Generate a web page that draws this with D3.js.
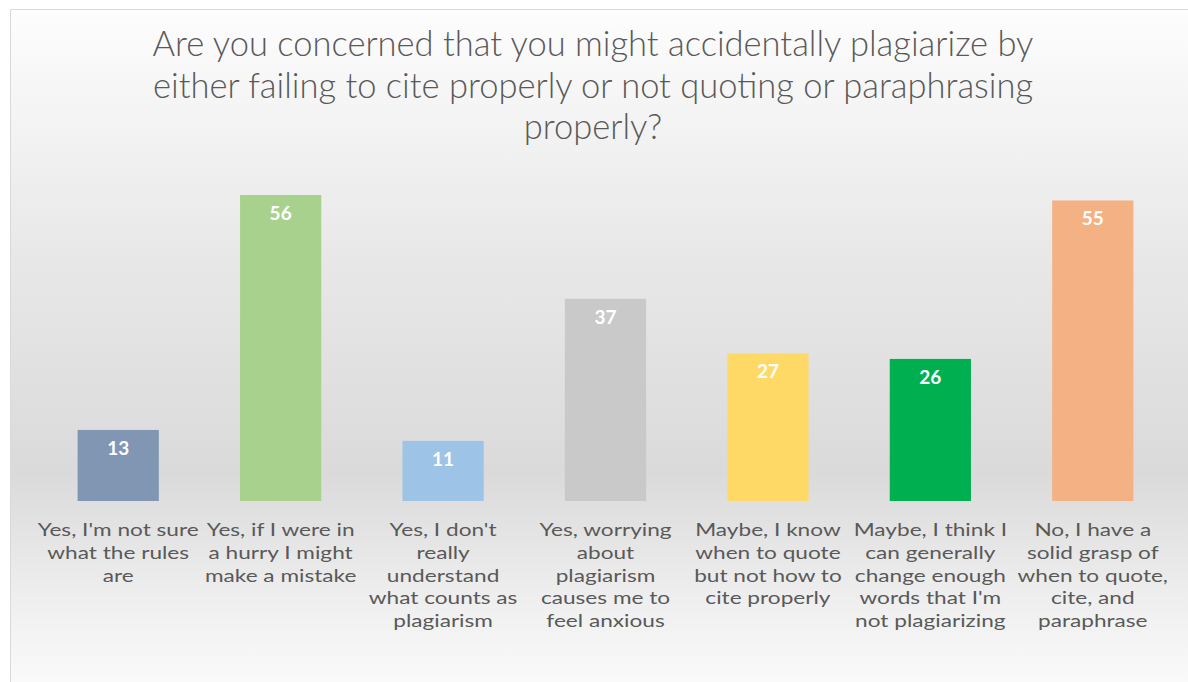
<!DOCTYPE html>
<html>
<head>
<meta charset="utf-8">
<script src="https://cdn.jsdelivr.net/npm/d3@7"></script>
<style>
  html, body { margin: 0; padding: 0; background: #ffffff; overflow: hidden; }
  svg { display: block; }
</style>
</head>
<body>
<svg id="chart" width="1188" height="682"></svg>
<script>
// Survey responses
const titleLines = [
  "Are you concerned that you might accidentally plagiarize by",
  "either failing to cite properly or not quoting or paraphrasing",
  "properly?"
];
const categories = [
  ["Yes, I'm not sure", "what the rules", "are"],
  ["Yes, if I were in", "a hurry I might", "make a mistake"],
  ["Yes, I don't", "really", "understand", "what counts as", "plagiarism"],
  ["Yes, worrying", "about", "plagiarism", "causes me to", "feel anxious"],
  ["Maybe, I know", "when to quote", "but not how to", "cite properly"],
  ["Maybe, I think I", "can generally", "change enough", "words that I'm", "not plagiarizing"],
  ["No, I have a", "solid grasp of", "when to quote,", "cite, and", "paraphrase"]
];
const counts = [13, 56, 11, 37, 27, 26, 55];
const barColors = ["#8096B3", "#A9D18E", "#9DC3E6", "#C9C9C9", "#FFD966", "#00B050", "#F4B183"];

const W = 1188, H = 682;
const svg = d3.select("#chart");
const FONT = "Lato, 'Open Sans', 'Noto Sans', sans-serif";

// background panel with vertical gradient
const defs = svg.append("defs");
const grad = defs.append("linearGradient")
  .attr("id", "bg").attr("x1", 0).attr("y1", 0).attr("x2", 0).attr("y2", 1);
[[0, "#fdfdfd"], [0.36, "#e8e8e8"], [0.68, "#dadada"], [0.86, "#eeeeee"], [1, "#fbfbfb"]]
  .forEach(([o, c]) => grad.append("stop").attr("offset", o).attr("stop-color", c));

svg.append("rect").attr("x", 10).attr("y", 9).attr("width", W).attr("height", H)
  .attr("fill", "url(#bg)");
svg.append("path").attr("d", `M10.5,${H} V9.5 H${W}`)
  .attr("fill", "none").attr("stroke", "#d9d9d9").attr("stroke-width", 1);

// scales
const x = d3.scaleBand().domain(d3.range(counts.length)).range([37, 1174]).paddingInner(0.5).paddingOuter(0.25);
const y = d3.scaleLinear().domain([0, 56]).range([501, 195]);

// title
const title = svg.append("g").attr("class", "title");
title.selectAll("text").data(titleLines).join("text")
  .attr("x", 593).attr("y", (d, i) => 56 + i * 41.5)
  .attr("text-anchor", "middle")
  .attr("fill", "#595959")
  .style("font-family", FONT).style("font-weight", 300).style("font-size", "30px")
  .text(d => d);
// fit title width
{
  const n = title.select("text").node();
  const w = n.getComputedTextLength();
  const fs = 30 * 881 / w;
  title.selectAll("text").style("font-size", fs + "px");
}

// bars
svg.append("g").selectAll("rect").data(counts).join("rect")
  .attr("x", (d, i) => x(i))
  .attr("width", x.bandwidth())
  .attr("y", d => y(d))
  .attr("height", d => y(0) - y(d))
  .attr("fill", (d, i) => barColors[i]);

// value labels
svg.append("g").selectAll("text").data(counts).join("text")
  .attr("x", (d, i) => x(i) + x.bandwidth() / 2)
  .attr("y", d => y(d) + 25)
  .attr("text-anchor", "middle")
  .attr("fill", "#ffffff")
  .style("font-family", FONT).style("font-weight", 700).style("font-size", "19px")
  .text(d => d);

// category labels, one text element per line, slightly widened glyphs
const labelSize = 17.5;
const labels = svg.append("g").attr("class", "cats");
const lineTexts = labels.selectAll("text")
  .data(categories.flatMap((lines, i) => lines.map((line, j) => ({ line, i, j }))))
  .join("text")
  .attr("text-anchor", "middle")
  .attr("fill", "#595959")
  .style("font-family", FONT).style("font-size", labelSize + "px")
  .text(d => d.line);
{
  const w = labels.select("text").node().getComputedTextLength();
  const sx = Math.max(1, 161 / w);
  lineTexts.attr("transform", d =>
    `translate(${x(d.i) + x.bandwidth() / 2},${536 + d.j * 22.8}) scale(${sx.toFixed(3)},1)`);
}
</script>
</body>
</html>
